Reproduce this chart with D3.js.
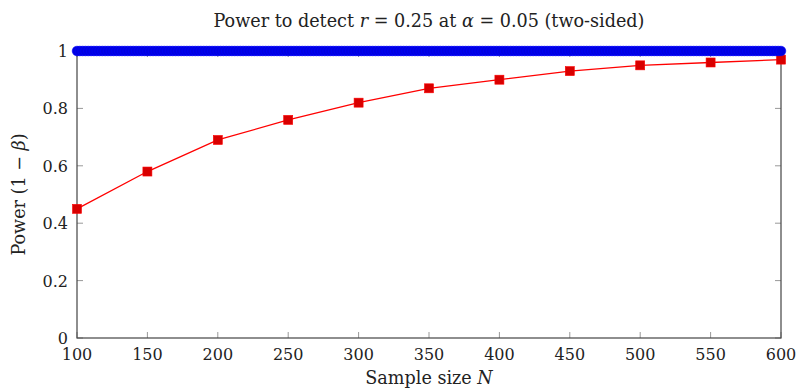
<!DOCTYPE html>
<html><head><meta charset="utf-8">
<script src="https://cdn.jsdelivr.net/npm/d3@7"></script>
<style>body{margin:0;background:#fff}svg{display:block}text{font-family:"DejaVu Serif",serif;fill:#222}</style>
</head><body><svg id="c" width="798" height="388"></svg>
<script>
const redN = [100,150,200,250,300,350,400,450,500,550,600];
const redPower = [0.45,0.58,0.69,0.76,0.82,0.87,0.90,0.93,0.95,0.96,0.97];
const blueN = d3.range(100, 601, 2); // dense sample grid along N
const bluePower = blueN.map(() => 1); // observed constant at 1
const xTicks = [100,150,200,250,300,350,400,450,500,550,600];
const yTicks = [0,0.2,0.4,0.6,0.8,1];

const svg = d3.select("#c");
const L=77, R=781, T=51, B=338;
const FS = 16, LFS = 17.6;
const x = d3.scaleLinear().domain([100,600]).range([L,R]);
const y = d3.scaleLinear().domain([0,1]).range([B,T]);

const g = svg.append("g");
g.selectAll(".xt").data(xTicks).join("line")
  .attr("x1",d=>x(d)).attr("x2",d=>x(d)).attr("y1",B).attr("y2",B-6)
  .attr("stroke","#999").attr("stroke-width",1);
g.selectAll(".xt2").data(xTicks).join("line")
  .attr("x1",d=>x(d)).attr("x2",d=>x(d)).attr("y1",T).attr("y2",T+6)
  .attr("stroke","#999").attr("stroke-width",1);
g.selectAll(".yt").data(yTicks).join("line")
  .attr("x1",L).attr("x2",L+6).attr("y1",d=>y(d)).attr("y2",d=>y(d))
  .attr("stroke","#999").attr("stroke-width",1);
g.selectAll(".yt2").data(yTicks).join("line")
  .attr("x1",R).attr("x2",R-6).attr("y1",d=>y(d)).attr("y2",d=>y(d))
  .attr("stroke","#999").attr("stroke-width",1);

svg.append("rect").attr("x",L).attr("y",T).attr("width",R-L).attr("height",B-T)
  .attr("fill","none").attr("stroke","#444").attr("stroke-width",1.2);

svg.selectAll(".xl").data(xTicks).join("text")
  .attr("x",d=>x(d)).attr("y",B+22).attr("text-anchor","middle")
  .attr("font-size",FS).text(d=>d);
svg.selectAll(".yl").data(yTicks).join("text")
  .attr("x",L-9).attr("y",d=>y(d)+6).attr("text-anchor","end")
  .attr("font-size",FS).text(d=>d);

const redData = redN.map((n,i)=>({n, p:redPower[i]}));
svg.append("path").datum(redData)
  .attr("d", d3.line().x(d=>x(d.n)).y(d=>y(d.p)))
  .attr("fill","none").attr("stroke","#ff0000").attr("stroke-width",1.3);
svg.selectAll(".rm").data(redData).join("rect")
  .attr("x",d=>x(d.n)-4.5).attr("y",d=>y(d.p)-4.5).attr("width",9).attr("height",9)
  .attr("fill","#d80000").attr("stroke","#ff0000").attr("stroke-width",0.6);

const blueData = blueN.map((n,i)=>({n, p:bluePower[i]}));
svg.append("path").datum(blueData)
  .attr("d", d3.line().x(d=>x(d.n)).y(d=>y(d.p)))
  .attr("fill","none").attr("stroke","#0000ff").attr("stroke-width",1.3);
svg.selectAll(".bm").data(blueData).join("circle")
  .attr("cx",d=>x(d.n)).attr("cy",d=>y(d.p)).attr("r",4.8)
  .attr("fill","#0000e0").attr("stroke","#0000ff").attr("stroke-width",0.6);

const title = svg.append("text").attr("x",(L+R)/2).attr("y",27).attr("text-anchor","middle").attr("font-size",LFS);
title.append("tspan").text("Power to detect ");
title.append("tspan").attr("font-style","italic").text("r");
title.append("tspan").text(" = 0.25 at ");
title.append("tspan").attr("font-style","italic").text("α");
title.append("tspan").text(" = 0.05 (two-sided)");

const xl = svg.append("text").attr("x",(L+R)/2).attr("y",384).attr("text-anchor","middle").attr("font-size",LFS);
xl.append("tspan").text("Sample size ");
xl.append("tspan").attr("font-style","italic").text("N");

const yl = svg.append("text").attr("transform",`translate(25,${(T+B)/2}) rotate(-90)`).attr("text-anchor","middle").attr("font-size",LFS);
yl.append("tspan").text("Power (1 − ");
yl.append("tspan").attr("font-style","italic").text("β");
yl.append("tspan").text(")");
</script></body></html>
